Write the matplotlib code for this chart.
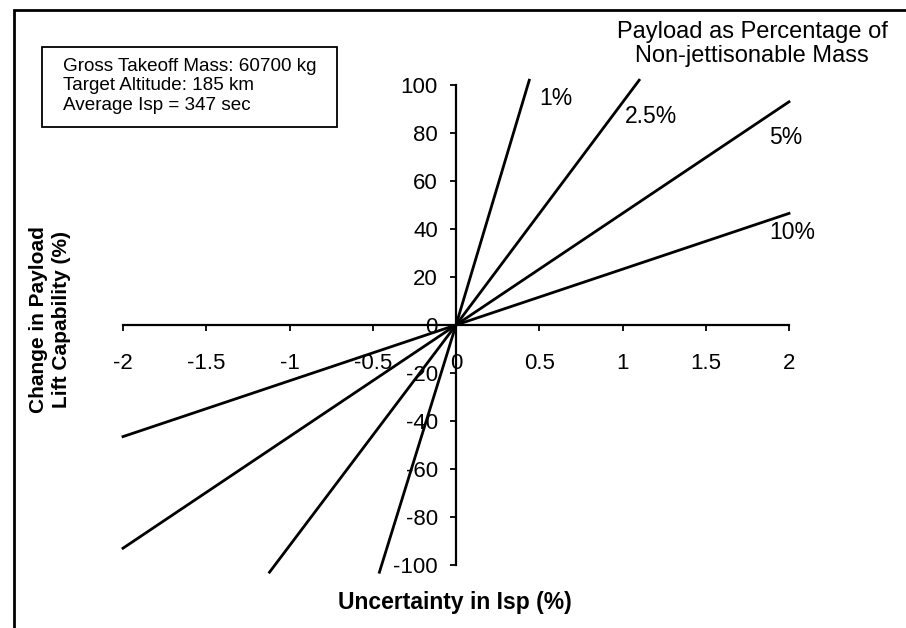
import matplotlib
matplotlib.use("Agg")
import matplotlib.pyplot as plt
from matplotlib.patches import Rectangle

plt.rcParams["font.family"] = ["Liberation Sans", "DejaVu Sans"]
plt.rcParams["axes.unicode_minus"] = False

# Payload fraction curves (x = Isp uncertainty %, y = payload change %)
series_names = ["1%", "2.5%", "5%", "10%"]
x_1pct = [-0.46, 0, 0.44]
y_1pct = [-103, 0, 102]
x_2p5pct = [-1.12, 0, 1.10]
y_2p5pct = [-103, 0, 102]
x_5pct = [-2.0, 0, 2.0]
y_5pct = [-93, 0, 93]
x_10pct = [-2.0, 0, 2.0]
y_10pct = [-46.5, 0, 46.5]

x_ticks = [-2, -1.5, -1, -0.5, 0, 0.5, 1, 1.5, 2]
x_tick_labels = ["-2", "-1.5", "-1", "-0.5", "0", "0.5", "1", "1.5", "2"]
y_ticks = [-100, -80, -60, -40, -20, 0, 20, 40, 60, 80, 100]

info_lines = ["Gross Takeoff Mass: 60700 kg",
              "Target Altitude: 185 km",
              "Average Isp = 347 sec"]

W, H = 906, 628
fig = plt.figure(figsize=(W / 100, H / 100), dpi=100)
ax = fig.add_axes([123 / W, 1 - 565 / H, (789 - 123) / W, (565 - 85) / H])

xs = [x_1pct, x_2p5pct, x_5pct, x_10pct]
ys = [y_1pct, y_2p5pct, y_5pct, y_10pct]
for x, y in zip(xs, ys):
    ax.plot(x, y, color="black", lw=2.0, zorder=3, clip_on=False)

# curve labels (data coords)
label_pos = [(0.60, 94.5), (1.17, 87), (1.98, 78), (2.02, 38.5)]
for name, (lx, ly) in zip(series_names, label_pos):
    ax.text(lx, ly, name, fontsize=16.5, ha="center", va="center")

ax.set_xlim(-2, 2)
ax.set_ylim(-100, 100)
ax.spines["left"].set_position(("data", 0))
ax.spines["bottom"].set_position(("data", 0))
ax.spines["top"].set_visible(False)
ax.spines["right"].set_visible(False)
for s in ("left", "bottom"):
    ax.spines[s].set_linewidth(1.6)
ax.set_xticks(x_ticks)
ax.set_xticklabels(x_tick_labels)
ax.set_yticks(y_ticks)
ax.tick_params(axis="x", direction="out", length=4, width=1.3, pad=16, labelsize=16)
ax.tick_params(axis="y", direction="out", length=4, width=1.3, pad=9, labelsize=16)
ax.patch.set_visible(False)

fig.text(455 / W, 1 - 603 / H, "Uncertainty in Isp (%)", fontsize=16.5,
         fontweight="bold", ha="center", va="center")
fig.text(50 / W, 1 - 320 / H, "Change in Payload\nLift Capability (%)", fontsize=15,
         fontweight="bold", ha="center", va="center", rotation=90, linespacing=1.3)

fig.text(752 / W, 1 - 44 / H, "Payload as Percentage of\nNon-jettisonable Mass",
         fontsize=17, ha="center", va="center", linespacing=1.15)

# info box
fig.patches.append(Rectangle((42 / W, 1 - 127 / H), (337 - 42) / W, (127 - 47) / H,
                             transform=fig.transFigure, fill=False, lw=1.3, ec="black"))
fig.text(63 / W, 1 - 86 / H, "\n".join(info_lines), fontsize=13.6,
         ha="left", va="center", linespacing=1.2)

# outer frame (runs off the right and bottom edge)
fig.patches.append(Rectangle((14 / W, -0.05), 1.1, 1.05 - 10 / H,
                             transform=fig.transFigure, fill=False, lw=2, ec="black"))

fig.savefig("out.png", dpi=100)
